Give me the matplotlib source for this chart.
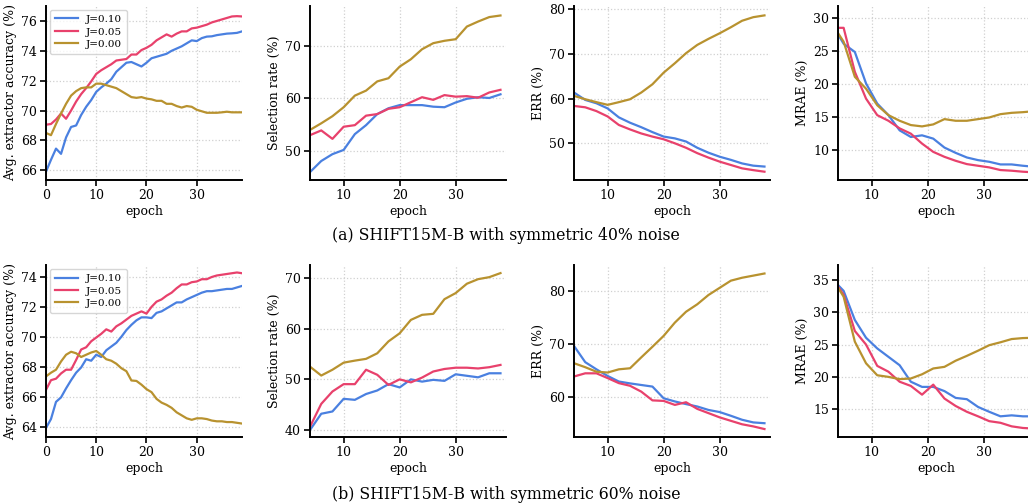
"""Recreate the J-sweep training curves (SHIFT15M-B, symmetric noise)."""

import matplotlib
matplotlib.use("Agg")
import matplotlib.pyplot as plt
from matplotlib.ticker import MultipleLocator

plt.rcParams["font.family"] = ["DejaVu Serif"]
plt.rcParams["font.size"] = 9

LABELS = ["J=0.10", "J=0.05", "J=0.00"]
COLORS = ["#4a80e0", "#e8416c", "#b8922f"]

# epochs for each kind of panel
ep_acc = list(range(0, 40))
ep_even = list(range(4, 40, 2))
ep_odd = [4] + list(range(5, 40, 2))

# ---- (a) symmetric 40% noise ----
acc_a = [
    [65.9, 66.7, 67.45, 67.1, 68.2, 68.9, 69.0, 69.7, 70.25, 70.7,
     71.25, 71.55, 71.8, 72.1, 72.6, 72.9, 73.2, 73.25, 73.1, 72.95,
     73.2, 73.5, 73.6, 73.7, 73.8, 74.0, 74.15, 74.3, 74.5, 74.7,
     74.65, 74.85, 74.95, 74.97, 75.05, 75.1, 75.15, 75.17, 75.2, 75.3],
    [69.05, 69.1, 69.4, 69.8, 69.45, 70.0, 70.6, 71.1, 71.5, 71.95,
     72.45, 72.7, 72.9, 73.1, 73.35, 73.4, 73.45, 73.75, 73.75, 74.05,
     74.2, 74.4, 74.7, 74.9, 75.1, 74.95, 75.15, 75.3, 75.3, 75.5,
     75.55, 75.65, 75.75, 75.9, 76.0, 76.1, 76.2, 76.3, 76.32, 76.3],
    [68.5, 68.35, 69.1, 69.8, 70.45, 71.0, 71.3, 71.5, 71.55, 71.55,
     71.8, 71.8, 71.7, 71.6, 71.5, 71.3, 71.1, 70.9, 70.85, 70.9,
     70.8, 70.75, 70.65, 70.65, 70.45, 70.45, 70.3, 70.2, 70.3, 70.25,
     70.05, 69.95, 69.85, 69.85, 69.85, 69.88, 69.92, 69.88, 69.88, 69.88],
]
sel_a = [
    [46.0, 48.1, 49.4, 50.2, 53.2, 54.9, 57.0, 58.1, 58.7, 58.7,
     58.7, 58.4, 58.3, 59.2, 59.9, 60.2, 60.05, 60.75],
    [53.0, 53.9, 52.3, 54.6, 54.9, 56.7, 57.0, 58.0, 58.3, 59.25,
     60.2, 59.7, 60.6, 60.3, 60.4, 60.1, 61.1, 61.6],
    [54.0, 55.25, 56.6, 58.3, 60.5, 61.45, 63.2, 63.8, 66.0, 67.4,
     69.3, 70.45, 70.9, 71.2, 73.6, 74.55, 75.4, 75.7],
]
err_a = [
    [61.35, 59.7, 58.95, 57.8, 55.8, 54.6, 53.6, 52.5, 51.5, 51.1,
     50.4, 49.0, 47.9, 47.0, 46.3, 45.5, 45.0, 44.8],
    [58.35, 58.05, 57.2, 56.0, 54.1, 53.1, 52.2, 51.5, 50.9, 50.0,
     49.0, 47.8, 46.8, 45.9, 45.15, 44.4, 44.0, 43.65],
    [60.6, 59.85, 59.2, 58.6, 59.2, 59.85, 61.35, 63.2, 65.8, 67.9,
     70.15, 72.0, 73.35, 74.6, 75.95, 77.4, 78.2, 78.6],
]
mrae_a = [
    [27.5, 26.1, 24.85, 20.1, 17.05, 15.3, 13.0, 12.0, 12.25, 11.75,
     10.4, 9.6, 8.9, 8.5, 8.25, 7.85, 7.85, 7.65, 7.5],
    [28.5, 28.5, 21.85, 17.8, 15.3, 14.45, 13.3, 12.5, 11.0, 9.75,
     9.0, 8.4, 7.9, 7.65, 7.4, 7.0, 6.9, 6.75, 6.65],
    [27.7, 26.4, 21.1, 19.3, 16.8, 15.3, 14.45, 13.8, 13.6, 13.9,
     14.7, 14.45, 14.45, 14.7, 14.95, 15.45, 15.65, 15.75, 15.9],
]

# ---- (b) symmetric 60% noise ----
acc_b = [
    [63.9, 64.5, 65.65, 65.95, 66.55, 67.1, 67.6, 67.95, 68.5, 68.4,
     68.8, 68.65, 69.1, 69.35, 69.6, 70.0, 70.45, 70.8, 71.1, 71.3,
     71.3, 71.25, 71.6, 71.7, 71.9, 72.1, 72.3, 72.3, 72.5, 72.65,
     72.8, 72.95, 73.05, 73.05, 73.1, 73.15, 73.2, 73.2, 73.3, 73.4],
    [66.45, 67.1, 67.2, 67.55, 67.8, 67.8, 68.45, 69.15, 69.3, 69.7,
     69.95, 70.2, 70.5, 70.35, 70.7, 70.9, 71.15, 71.4, 71.55, 71.7,
     71.55, 72.0, 72.35, 72.5, 72.75, 72.95, 73.25, 73.5, 73.5, 73.65,
     73.7, 73.85, 73.85, 74.0, 74.1, 74.15, 74.2, 74.25, 74.3, 74.25],
    [67.35, 67.6, 67.8, 68.35, 68.8, 69.0, 68.9, 68.65, 68.8, 68.95,
     69.05, 68.8, 68.5, 68.4, 68.2, 67.9, 67.7, 67.08, 67.05, 66.8,
     66.5, 66.3, 65.85, 65.6, 65.45, 65.25, 64.95, 64.75, 64.55, 64.45,
     64.55, 64.55, 64.5, 64.4, 64.35, 64.35, 64.3, 64.3, 64.25, 64.2],
]
sel_b = [
    [40.0, 43.2, 43.65, 46.15, 45.95, 47.1, 47.8, 49.05, 48.4, 50.0,
     49.55, 49.9, 49.7, 51.0, 50.7, 50.4, 51.2, 51.2],
    [40.65, 45.15, 47.6, 49.05, 49.05, 51.9, 50.9, 48.9, 50.0, 49.4,
     50.35, 51.55, 52.05, 52.3, 52.3, 52.15, 52.4, 52.85],
    [52.5, 50.75, 51.9, 53.3, 53.7, 54.05, 55.15, 57.5, 59.1, 61.75,
     62.75, 62.95, 65.85, 67.05, 68.9, 69.8, 70.2, 71.0],
]
err_b = [
    [69.65, 66.6, 65.25, 64.0, 62.95, 62.6, 62.3, 62.0, 59.8, 59.2,
     58.7, 58.25, 57.6, 57.2, 56.5, 55.75, 55.25, 55.1],
    [63.9, 64.5, 64.5, 63.6, 62.65, 62.15, 61.05, 59.4, 59.3, 58.55,
     59.05, 57.8, 57.0, 56.2, 55.55, 54.9, 54.5, 54.0],
    [66.4, 65.65, 64.8, 64.65, 65.25, 65.45, 67.5, 69.5, 71.55, 74.05,
     76.1, 77.5, 79.25, 80.6, 81.95, 82.5, 82.9, 83.3],
]
mrae_b = [
    [34.2, 33.3, 28.8, 26.05, 24.4, 23.1, 21.8, 19.25, 18.45, 18.45,
     17.8, 16.75, 16.55, 15.35, 14.6, 13.9, 14.05, 13.9, 13.9],
    [33.95, 32.7, 27.1, 25.0, 21.7, 20.8, 19.25, 18.6, 17.25, 18.8,
     16.65, 15.5, 14.6, 13.9, 13.15, 12.9, 12.35, 12.1, 12.0],
    [33.8, 32.4, 25.45, 22.1, 20.25, 20.0, 19.65, 19.75, 20.4, 21.3,
     21.55, 22.5, 23.25, 24.05, 24.9, 25.35, 25.85, 26.0, 26.05],
]


def draw(ax, epochs, series, ylabel, ylim, ystep, xlim, legend=False):
    for vals, lab, col in zip(series, LABELS, COLORS):
        ax.plot(epochs, vals, color=col, lw=1.6, label=lab)
    ax.set_xlim(*xlim)
    ax.set_ylim(*ylim)
    ax.xaxis.set_major_locator(MultipleLocator(10))
    ax.yaxis.set_major_locator(MultipleLocator(ystep))
    ax.set_xlabel("epoch", fontsize=9, labelpad=2)
    ax.set_ylabel(ylabel, fontsize=9, labelpad=3)
    ax.grid(True, ls=":", lw=0.9, color="#d0d0d0")
    ax.set_axisbelow(True)
    for side in ("top", "right"):
        ax.spines[side].set_visible(False)
    for side in ("left", "bottom"):
        ax.spines[side].set_linewidth(1.4)
    ax.tick_params(direction="out", length=4, width=1.2, pad=2.5, labelsize=9)
    if legend:
        ax.legend(loc="upper left", fontsize=7.5, frameon=True,
                  handlelength=2.2, borderpad=0.45, labelspacing=0.3,
                  borderaxespad=0.4)


fig = plt.figure(figsize=(10.28, 5.04), dpi=100)

lefts = [0.0447, 0.3016, 0.5584, 0.8152]
width = 0.1907
rows = [(0.6429, 0.3452), (0.1329, 0.3413)]

panels = [
    [(ep_acc, acc_a, "Avg. extractor accuracy (%)", (65.35, 77.0), 2, (0, 39), True),
     (ep_even, sel_a, "Selection rate (%)", (44.5, 77.5), 10, (4, 39), False),
     (ep_even, err_a, "ERR (%)", (41.8, 80.7), 10, (4, 39), False),
     (ep_odd, mrae_a, "MRAE (%)", (5.5, 31.8), 5, (4, 39), False)],
    [(ep_acc, acc_b, "Avg. extractor accuracy (%)", (63.3, 74.8), 2, (0, 39), True),
     (ep_even, sel_b, "Selection rate (%)", (38.6, 72.6), 10, (4, 39), False),
     (ep_even, err_b, "ERR (%)", (52.5, 84.9), 10, (4, 39), False),
     (ep_odd, mrae_b, "MRAE (%)", (10.7, 37.3), 5, (4, 39), False)],
]

for (bottom, height), row in zip(rows, panels):
    for left, (ep, ser, ylab, ylim, ystep, xlim, leg) in zip(lefts, row):
        ax = fig.add_axes([left, bottom, width, height])
        draw(ax, ep, ser, ylab, ylim, ystep, xlim, legend=leg)

fig.text(0.492, 0.532, "(a) SHIFT15M-B with symmetric 40% noise",
         ha="center", va="center", fontsize=11.3)
fig.text(0.492, 0.018, "(b) SHIFT15M-B with symmetric 60% noise",
         ha="center", va="center", fontsize=11.3)

fig.savefig("out.png", dpi=100)
